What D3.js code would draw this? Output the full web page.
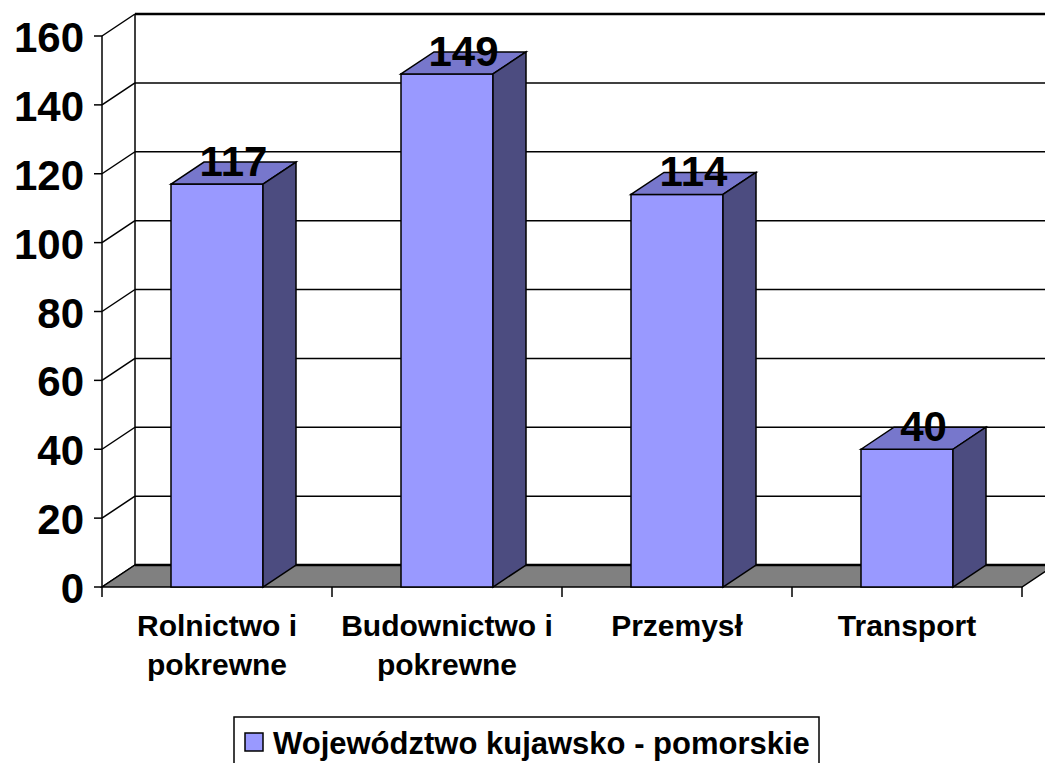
<!DOCTYPE html>
<meta charset="utf-8">
<style>
  body { margin: 0; background: #fff; }
  text { font-family: "Liberation Sans", Arial, sans-serif; font-weight: bold; fill: #000; }
</style>
<svg width="1045" height="763"></svg>
<script src="https://d3js.org/d3.v7.min.js"></script>
<script>

var categories = [["Rolnictwo i", "pokrewne"], ["Budownictwo i", "pokrewne"], ["Przemysł"], ["Transport"]];
var values = [117, 149, 114, 40];
var yTicks = [0, 20, 40, 60, 80, 100, 120, 140, 160];
var seriesName = "Województwo kujawsko - pomorskie";

var svg = d3.select("svg"),
    W = +svg.attr("width");

// depth offset of the 3d box
var dx = 33, dy = -22;

var x = d3.scaleBand().domain(d3.range(categories.length)).range([102, 1022]).padding(0),
    y = d3.scaleLinear().domain([0, 160]).range([587, 36]);

var barW = x.bandwidth() * 0.4;

// back wall gridlines
svg.append("g").selectAll("line")
    .data(yTicks)
  .enter().append("line")
    .attr("x1", 102 + dx).attr("x2", W)
    .attr("y1", function(d) { return y(d) + dy; })
    .attr("y2", function(d) { return y(d) + dy; })
    .attr("stroke", "#000")
    .attr("stroke-width", function(d) { return d === 160 ? 2.5 : 1.5; });

// back wall left edge
svg.append("line")
    .attr("x1", 102 + dx).attr("x2", 102 + dx)
    .attr("y1", y(160) + dy).attr("y2", y(0) + dy)
    .attr("stroke", "#000").attr("stroke-width", 1.5);

// side wall diagonals
svg.append("g").selectAll("line")
    .data(yTicks)
  .enter().append("line")
    .attr("x1", 102).attr("x2", 102 + dx)
    .attr("y1", function(d) { return y(d); })
    .attr("y2", function(d) { return y(d) + dy; })
    .attr("stroke", "#000").attr("stroke-width", 1.5);

// floor
var x0 = 102, x1 = 1022, fy = y(0);
svg.append("path")
    .attr("d", "M" + x0 + "," + fy + "L" + x1 + "," + fy + "L" + (x1 + dx) + "," + (fy + dy) +
               "L" + (x0 + dx) + "," + (fy + dy) + "Z")
    .attr("fill", "#808080")
    .attr("stroke", "#000").attr("stroke-width", 1.5);
svg.append("line")
    .attr("x1", x0 + dx).attr("x2", W)
    .attr("y1", fy + dy).attr("y2", fy + dy)
    .attr("stroke", "#000").attr("stroke-width", 2.5);

// value axis line + ticks
svg.append("line")
    .attr("x1", 102).attr("x2", 102)
    .attr("y1", y(160)).attr("y2", y(0))
    .attr("stroke", "#000").attr("stroke-width", 1.5);
svg.append("g").selectAll("line")
    .data(yTicks)
  .enter().append("line")
    .attr("x1", 94).attr("x2", 102)
    .attr("y1", function(d) { return y(d); })
    .attr("y2", function(d) { return y(d); })
    .attr("stroke", "#000").attr("stroke-width", 1.5);
svg.append("g").selectAll("text")
    .data(yTicks)
  .enter().append("text")
    .attr("x", 84)
    .attr("y", function(d) { return y(d) + 16; })
    .attr("text-anchor", "end")
    .style("font-size", "42px")
    .text(function(d) { return d; });

// category ticks
svg.append("g").selectAll("line")
    .data(d3.range(categories.length + 1))
  .enter().append("line")
    .attr("x1", function(i) { return 102 + i * x.step(); })
    .attr("x2", function(i) { return 102 + i * x.step(); })
    .attr("y1", fy).attr("y2", fy + 10)
    .attr("stroke", "#000").attr("stroke-width", 1.5);

// bars
var bars = svg.append("g").selectAll("g")
    .data(values)
  .enter().append("g");

function bx(i) { return x(i) + (x.bandwidth() - barW) / 2; }

bars.append("rect")
    .attr("x", function(d, i) { return bx(i); })
    .attr("y", function(d) { return y(d); })
    .attr("width", barW)
    .attr("height", function(d) { return y(0) - y(d); })
    .attr("fill", "#9999FF")
    .attr("stroke", "#000").attr("stroke-width", 1.5);

bars.append("path")
    .attr("d", function(d, i) {
      var l = bx(i), r = l + barW, t = y(d);
      return "M" + l + "," + t + "L" + (l + dx) + "," + (t + dy) + "L" + (r + dx) + "," + (t + dy) + "L" + r + "," + t + "Z";
    })
    .attr("fill", "#7777CC")
    .attr("stroke", "#000").attr("stroke-width", 1.5);

bars.append("path")
    .attr("d", function(d, i) {
      var r = bx(i) + barW, t = y(d), b = y(0);
      return "M" + r + "," + t + "L" + (r + dx) + "," + (t + dy) + "L" + (r + dx) + "," + (b + dy) + "L" + r + "," + b + "Z";
    })
    .attr("fill", "#4C4C80")
    .attr("stroke", "#000").attr("stroke-width", 1.5);

// value labels
bars.append("text")
    .attr("x", function(d, i) { return x(i) + x.bandwidth() / 2 + dx / 2; })
    .attr("y", function(d) { return y(d) - 8; })
    .attr("text-anchor", "middle")
    .style("font-size", "42px")
    .text(function(d) { return d; });

// category labels
var cat = svg.append("g").selectAll("text")
    .data(categories)
  .enter().append("text")
    .attr("text-anchor", "middle")
    .style("font-size", "30px");
cat.selectAll("tspan")
    .data(function(d, i) { return d.map(function(s) { return {s: s, i: i}; }); })
  .enter().append("tspan")
    .attr("x", function(d) { return x(d.i) + x.bandwidth() / 2; })
    .attr("y", function(d, j) { return 636 + j * 39; })
    .text(function(d) { return d.s; });

// legend
var lg = svg.append("g");
lg.append("rect")
    .attr("x", 234).attr("y", 717)
    .attr("width", 585).attr("height", 60)
    .attr("fill", "#fff")
    .attr("stroke", "#000").attr("stroke-width", 1.5);
lg.append("rect")
    .attr("x", 245).attr("y", 733)
    .attr("width", 18).attr("height", 18)
    .attr("fill", "#9999FF")
    .attr("stroke", "#000").attr("stroke-width", 1.5);
lg.append("text")
    .attr("x", 273).attr("y", 754)
    .style("font-size", "31px")
    .text(seriesName);

</script>
